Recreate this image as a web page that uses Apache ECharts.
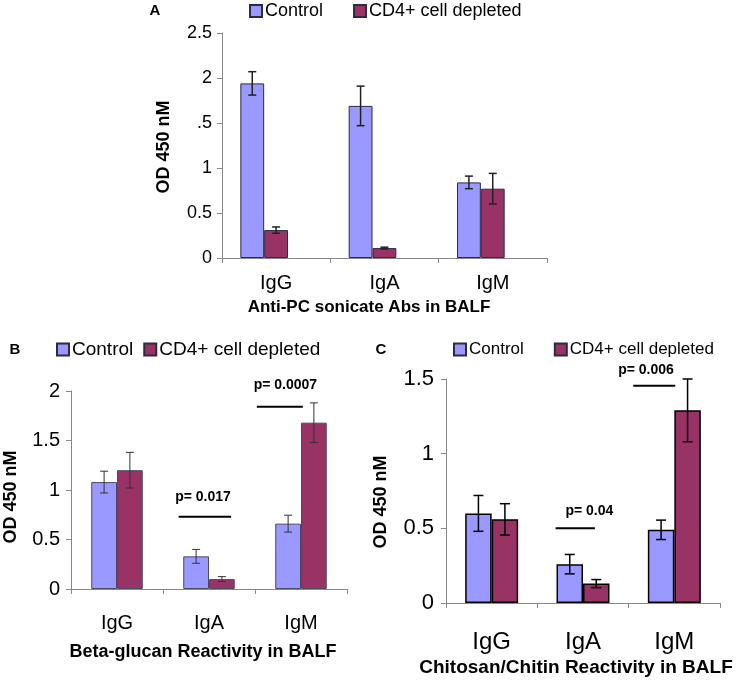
<!DOCTYPE html>
<html><head><meta charset="utf-8">
<script src="https://cdn.jsdelivr.net/npm/echarts@6/dist/echarts.min.js"></script>
<style>html,body{margin:0;padding:0;background:#fff}#c{width:750px;height:681px}</style>
</head><body><div id="c"></div>
<script>
const categories = ['IgG', 'IgA', 'IgM'];
// Panel A: Anti-PC sonicate Abs in BALF
const pcControl = [1.94, 1.69, 0.84];
const pcControlErr = [0.13, 0.22, 0.07];
const pcDepleted = [0.31, 0.11, 0.77];
const pcDepletedErr = [0.035, 0.01, 0.17];
const pcTickLabels = ['0', '0.5', '1', '.5', '2', '2.5'];
// Panel B: Beta-glucan Reactivity in BALF
const bgControl = [1.08, 0.33, 0.66];
const bgControlErr = [0.11, 0.07, 0.085];
const bgDepleted = [1.20, 0.10, 1.68];
const bgDepletedErr = [0.18, 0.025, 0.20];
const bgTickLabels = ['0', '0.5', '1', '1.5', '2'];
const bgPLabels = ['p= 0.017', 'p= 0.0007'];
const bgPLines = [[1.17, 1.74, 0.73], [2.02, 2.52, 1.84]];
const bgPText = [[1.435, 0.93], [2.33, 2.06]];
// Panel C: Chitosan/Chitin Reactivity in BALF
const chControl = [0.60, 0.26, 0.49];
const chControlErr = [0.12, 0.065, 0.065];
const chDepleted = [0.56, 0.13, 1.29];
const chDepletedErr = [0.105, 0.027, 0.21];
const chTickLabels = ['0', '0.5', '1', '1.5'];
const chPLabels = ['p= 0.04', 'p= 0.006'];
const chPLines = [[1.20, 1.63, 0.50], [2.05, 2.51, 1.455]];
const chPText = [[1.57, 0.615], [2.19, 1.56]];

const FONT = 'Liberation Sans, Arial, sans-serif';
const C_CTRL = '#9999FF', C_DEP = '#993366';

function errSeries(vals, errs, xi, yi, offFrac, color, lw, cap) {
  return {
    type: 'custom', xAxisIndex: xi, yAxisIndex: yi, z: 5, silent: true,
    data: vals.map((v, i) => [i, v, errs[i]]),
    renderItem: function (params, api) {
      const idx = api.value(0), v = api.value(1), e = api.value(2);
      const band = api.size([1, 0])[0];
      const cx = api.coord([idx, v])[0] + offFrac * band;
      const t = api.coord([idx, v + e])[1];
      const b = api.coord([idx, v - e])[1];
      const st = { stroke: color, lineWidth: lw };
      return { type: 'group', children: [
        { type: 'line', shape: { x1: cx, y1: t, x2: cx, y2: b }, style: st },
        { type: 'line', shape: { x1: cx - cap, y1: t, x2: cx + cap, y2: t }, style: st },
        { type: 'line', shape: { x1: cx - cap, y1: b, x2: cx + cap, y2: b }, style: st }
      ] };
    }
  };
}
function pSeries(labels, lines, texts, xi, yi, fs) {
  return {
    type: 'custom', xAxisIndex: xi, yAxisIndex: yi, z: 6, silent: true, clip: false,
    data: lines.map((l, i) => [l[0], l[1], l[2], texts[i][0], texts[i][1], i]),
    renderItem: function (params, api) {
      const p1 = api.coord([api.value(0), api.value(2)]);
      const p2 = api.coord([api.value(1), api.value(2)]);
      const pt = api.coord([api.value(3), api.value(4)]);
      return { type: 'group', children: [
        { type: 'line', shape: { x1: p1[0], y1: p1[1], x2: p2[0], y2: p2[1] }, style: { stroke: '#000', lineWidth: 2 } },
        { type: 'text', style: { text: labels[api.value(5)], x: pt[0], y: pt[1], align: 'center', verticalAlign: 'middle', font: 'bold ' + fs + 'px ' + FONT, fill: '#000' } }
      ] };
    }
  };
}
function bar(name, vals, xi, yi, w, bc, bw) {
  return { name: name, type: 'bar', xAxisIndex: xi, yAxisIndex: yi, data: vals, barWidth: w, barGap: '0%',
    itemStyle: { color: name === 'Control' ? C_CTRL : C_DEP, borderColor: bc, borderWidth: bw } };
}
function catAxis(gi, fs, margin, show) {
  return { type: 'category', gridIndex: gi, data: categories,
    show: show !== false,
    axisLine: { lineStyle: { color: '#888', width: 1 } },
    axisTick: { show: true, length: 5, lineStyle: { color: '#888' } },
    axisLabel: { fontFamily: FONT, fontSize: fs, color: '#000', margin: margin } };
}
function valAxis(gi, max, labels, fs, margin, show) {
  return { type: 'value', gridIndex: gi, min: 0, max: max, interval: 0.5, show: show !== false,
    splitLine: { show: false },
    axisLine: { show: true, lineStyle: { color: '#888', width: 1 } },
    axisTick: { show: true, length: 5, lineStyle: { color: '#888' } },
    axisLabel: { fontFamily: FONT, fontSize: fs, color: '#000', margin: margin,
      formatter: function (v, i) { return labels[Math.round(v / 0.5)]; } } };
}
function legend(left, top, gap, fs) {
  return { left: left, top: top, padding: 0, itemGap: gap, itemWidth: 12, itemHeight: 12, icon: 'rect',
    data: ['Control', 'CD4+ cell depleted'],
    textStyle: { fontFamily: FONT, fontSize: fs, color: '#000', padding: [0, 0, 0, -2] } };
}
function txt(x, y, s, fs, rot) {
  return { type: 'text', x: x, y: y, rotation: rot || 0,
    style: { text: s, font: 'bold ' + fs + 'px ' + FONT, fill: '#000', align: 'center', verticalAlign: 'middle' } };
}

const chart = echarts.init(document.getElementById('c'), null, { renderer: 'canvas' });
chart.setOption({
  animation: false,
  backgroundColor: '#fff',
  legend: [legend(249, 2, 30, 18), legend(56, 340, 10, 19), legend(453, 341, 30, 17)],
  grid: [
    { left: 222, top: 33, width: 325, height: 225 },
    { left: 210, top: 33, width: 325, height: 225 },
    { left: 71, top: 391, width: 276, height: 198 },
    { left: 446, top: 379, width: 274, height: 224 }
  ],
  xAxis: [
    catAxis(0, 20, 15),
    catAxis(1, 20, 15, false),
    catAxis(2, 20, 24),
    catAxis(3, 24, 27),
    { type: 'value', gridIndex: 2, min: 0, max: 3, show: false },
    { type: 'value', gridIndex: 3, min: 0, max: 3, show: false }
  ],
  yAxis: [
    valAxis(0, 2.5, pcTickLabels, 18, 10),
    valAxis(1, 2.5, pcTickLabels, 18, 10, false),
    valAxis(2, 2, bgTickLabels, 20, 11),
    valAxis(3, 1.5, chTickLabels, 22, 12)
  ],
  series: [
    bar('Control', pcControl, 1, 1, '22%', '#2b2b45', 1),
    bar('CD4+ cell depleted', pcDepleted, 1, 1, '22%', '#2b2b45', 1),
    errSeries(pcControl, pcControlErr, 1, 1, -0.11, '#222', 1.5, 4),
    errSeries(pcDepleted, pcDepletedErr, 1, 1, 0.11, '#222', 1.5, 4),
    bar('Control', bgControl, 2, 2, '28%', '#4a4a66', 1),
    bar('CD4+ cell depleted', bgDepleted, 2, 2, '28%', '#4a4a66', 1),
    errSeries(bgControl, bgControlErr, 2, 2, -0.14, '#333', 1, 4),
    errSeries(bgDepleted, bgDepletedErr, 2, 2, 0.14, '#333', 1, 4),
    pSeries(bgPLabels, bgPLines, bgPText, 4, 2, 14),
    bar('Control', chControl, 3, 3, '29%', '#000', 1.5),
    bar('CD4+ cell depleted', chDepleted, 3, 3, '29%', '#000', 1.5),
    errSeries(chControl, chControlErr, 3, 3, -0.145, '#000', 1.5, 5),
    errSeries(chDepleted, chDepletedErr, 3, 3, 0.145, '#000', 1.5, 5),
    pSeries(chPLabels, chPLines, chPText, 5, 3, 14)
  ],
  graphic: [
    txt(155, 11, 'A', 15),
    txt(15, 350, 'B', 15),
    txt(381, 350, 'C', 15),
    txt(164, 147, 'OD 450 nM', 18, Math.PI / 2),
    txt(11, 497, 'OD 450 nM', 18, Math.PI / 2),
    txt(381, 502, 'OD 450 nM', 18, Math.PI / 2),
    txt(369, 307, 'Anti-PC sonicate Abs in BALF', 17),
    txt(203, 652, 'Beta-glucan Reactivity in BALF', 18),
    txt(576, 668, 'Chitosan/Chitin Reactivity in BALF', 19)
  ]
});
</script></body></html>
